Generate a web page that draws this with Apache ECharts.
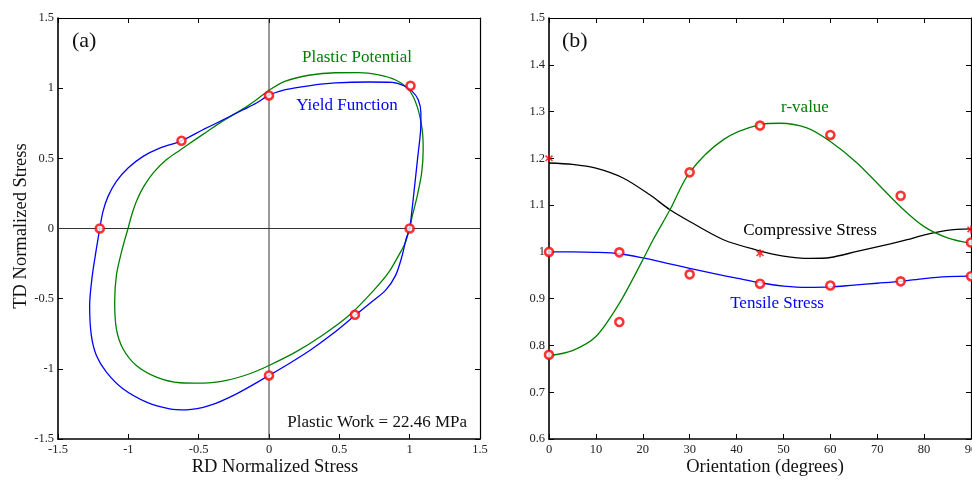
<!DOCTYPE html>
<html>
<head>
<meta charset="utf-8">
<script src="https://cdn.jsdelivr.net/npm/echarts@6/dist/echarts.min.js"></script>
<style>html,body{margin:0;padding:0;background:#fff;}#c{width:972px;height:480px;}</style>
</head>
<body>
<div id="c"></div>
<script>
// ---------- Panel (a): yield locus ----------
const stressTicks = [-1.5, -1, -0.5, 0, 0.5, 1, 1.5];
const yieldFunction = [
  [-1.203, 0.000], [-1.180, 0.122], [-1.144, 0.229], [-1.085, 0.336], [-1.002, 0.431],
  [-0.895, 0.514], [-0.777, 0.573], [-0.622, 0.625], [-0.469, 0.704], [-0.326, 0.775],
  [-0.184, 0.846], [-0.089, 0.894], [0.000, 0.950], [0.117, 0.989], [0.283, 1.017],
  [0.473, 1.037], [0.710, 1.044], [0.876, 1.041], [0.959, 1.017], [1.018, 0.977],
  [1.061, 0.918], [1.080, 0.823], [1.078, 0.704], [1.058, 0.514], [1.035, 0.300],
  [1.014, 0.110], [1.000, 0.000], [0.975, -0.073], [0.947, -0.192], [0.900, -0.334],
  [0.828, -0.441], [0.733, -0.520], [0.611, -0.620], [0.450, -0.752], [0.300, -0.862],
  [0.150, -0.958], [0.000, -1.047], [-0.231, -1.178], [-0.421, -1.261], [-0.587, -1.292],
  [-0.706, -1.285], [-0.871, -1.237], [-1.038, -1.142], [-1.156, -1.023], [-1.227, -0.905],
  [-1.263, -0.762], [-1.275, -0.548], [-1.256, -0.334], [-1.227, -0.144], [-1.203, 0.000]
];
const plasticPotential = [
  [-1.002, 0.000], [-0.975, 0.100], [-0.940, 0.200], [-0.890, 0.300], [-0.820, 0.400],
  [-0.730, 0.490], [-0.631, 0.560], [-0.530, 0.630], [-0.441, 0.690], [-0.330, 0.765],
  [-0.196, 0.845], [-0.089, 0.918], [0.000, 0.985], [0.117, 1.050], [0.283, 1.092],
  [0.473, 1.110], [0.639, 1.111], [0.781, 1.094], [0.900, 1.058], [0.994, 0.989],
  [1.053, 0.870], [1.089, 0.704], [1.096, 0.561], [1.085, 0.395], [1.053, 0.229],
  [1.018, 0.086], [0.999, 0.000], [0.971, -0.097], [0.935, -0.168], [0.852, -0.311],
  [0.733, -0.453], [0.568, -0.620], [0.378, -0.762], [0.188, -0.881], [0.000, -0.976],
  [-0.137, -1.035], [-0.302, -1.083], [-0.469, -1.102], [-0.634, -1.099], [-0.800, -1.059],
  [-0.943, -0.976], [-1.038, -0.857], [-1.085, -0.715], [-1.097, -0.524], [-1.085, -0.334],
  [-1.049, -0.168], [-1.002, 0.000]
];
const yieldPoints = [
  [-1.203, 0], [-0.622, 0.625], [0, 0.948], [1.006, 1.017], [1.0, 0], [0.611, -0.615], [0, -1.047]
];

// ---------- Panel (b): anisotropy vs orientation ----------
const angleTicks = [0, 10, 20, 30, 40, 50, 60, 70, 80, 90];
const ratioTicks = [0.6, 0.7, 0.8, 0.9, 1.0, 1.1, 1.2, 1.3, 1.4, 1.5];
const tensileCurve = [
  [0, 1.000], [5, 1.000], [10, 0.999], [15, 0.996], [20, 0.987], [25, 0.976], [30, 0.965],
  [35, 0.954], [40, 0.944], [45, 0.934], [50, 0.927], [55, 0.924], [60, 0.925], [65, 0.929],
  [70, 0.933], [75, 0.937], [80, 0.943], [85, 0.947], [90, 0.948]
];
const compressiveCurve = [
  [0, 1.190], [5, 1.187], [10, 1.179], [15.8, 1.158], [21.5, 1.122], [25.8, 1.090],
  [30, 1.065], [37.2, 1.026], [44.3, 1.004], [50, 0.991], [55.7, 0.986], [60, 0.988],
  [65.7, 1.001], [72.8, 1.017], [76.4, 1.026], [79.9, 1.036], [84.9, 1.046], [90, 1.049]
];
const rValueCurve = [
  [0, 0.778], [5, 0.789], [10, 0.819], [15, 0.890], [20, 0.983], [22.2, 1.026], [25.8, 1.090],
  [30, 1.170], [37.2, 1.240], [45, 1.272], [49.3, 1.275], [55, 1.265], [60, 1.236],
  [65.7, 1.190], [74.9, 1.097], [80, 1.054], [85, 1.030], [90, 1.018]
];
const tensilePoints = [[0, 1.0], [15, 0.999], [30, 0.952], [45, 0.932], [60, 0.928], [75, 0.937], [90, 0.948]];
const compressivePoints = [[0, 1.2], [45, 0.997], [90, 1.048]];
const rValuePoints = [[0, 0.78], [15, 0.85], [30, 1.17], [45, 1.27], [60, 1.25], [75, 1.12], [90, 1.02]];

const FONT = "'Liberation Serif', 'Times New Roman', serif";
const chart = echarts.init(document.getElementById('c'), null, {renderer: 'canvas'});

const starPath = 'path://M-1,-5L1,-5L1,-1.6L3.6,-4.1L4.9,-2.7L2.2,0L4.9,2.7L3.6,4.1L1,1.6L1,5L-1,5L-1,1.6L-3.6,4.1L-4.9,2.7L-2.2,0L-4.9,-2.7L-3.6,-4.1L-1,-1.6Z';

function mainAxis(gridIndex, min, max, interval, position, extraLabel) {
  return {
    type: 'value', gridIndex, min, max, interval, position,
    axisLine: {show: true, onZero: false, lineStyle: {color: '#000', width: 1.6}},
    axisTick: {show: true, inside: true, length: 5, lineStyle: {color: '#000'}},
    axisLabel: Object.assign({fontFamily: FONT, fontSize: 12.5, color: '#222', margin: 4}, extraLabel || {}),
    splitLine: {show: false}
  };
}
function mirrorAxis(gridIndex, min, max, interval, position) {
  return {
    type: 'value', gridIndex, min, max, interval, position,
    axisLine: {show: true, onZero: false, lineStyle: {color: '#000', width: 1.2}},
    axisTick: {show: true, inside: true, length: 5, lineStyle: {color: '#000'}},
    axisLabel: {show: false}, splitLine: {show: false}
  };
}

const circleMarker = {symbol: 'circle', symbolSize: 8, itemStyle: {color: '#fff', borderColor: '#ff0000', borderWidth: 2.6}};
const noBounds = {outerBoundsMode: 'none', containLabel: false};

chart.setOption({
  animation: false,
  backgroundColor: '#fff',
  grid: [
    Object.assign({left: 58, top: 18, width: 422, height: 421}, noBounds),
    Object.assign({left: 549, top: 18, width: 422, height: 421}, noBounds)
  ],
  xAxis: [
    mainAxis(0, stressTicks[0], stressTicks[stressTicks.length - 1], 0.5, 'bottom'),
    mirrorAxis(0, -1.5, 1.5, 0.5, 'top'),
    mainAxis(1, angleTicks[0], angleTicks[angleTicks.length - 1], 10, 'bottom'),
    mirrorAxis(1, 0, 90, 10, 'top')
  ],
  yAxis: [
    mainAxis(0, stressTicks[0], stressTicks[stressTicks.length - 1], 0.5, 'left'),
    mirrorAxis(0, -1.5, 1.5, 0.5, 'right'),
    mainAxis(1, ratioTicks[0], ratioTicks[ratioTicks.length - 1], 0.1, 'left', {formatter: v => String(+v.toFixed(1))}),
    mirrorAxis(1, 0.6, 1.5, 0.1, 'right')
  ],
  series: [
    {
      type: 'line', xAxisIndex: 0, yAxisIndex: 0, data: [[-1.5, 0], [1.5, 0]], symbol: 'none',
      lineStyle: {color: '#333', width: 1}, silent: true, z: 1
    },
    {
      type: 'line', xAxisIndex: 0, yAxisIndex: 0, data: [[0, -1.5], [0, 1.5]], symbol: 'none',
      lineStyle: {color: '#333', width: 1}, silent: true, z: 1
    },
    {
      name: 'Yield Function', type: 'line', xAxisIndex: 0, yAxisIndex: 0, data: yieldFunction,
      symbol: 'none', smooth: 0.3, lineStyle: {color: '#0000ff', width: 1.3}, z: 3
    },
    {
      name: 'Plastic Potential', type: 'line', xAxisIndex: 0, yAxisIndex: 0, data: plasticPotential,
      symbol: 'none', smooth: 0.3, lineStyle: {color: '#008000', width: 1.3}, z: 2
    },
    Object.assign({type: 'scatter', xAxisIndex: 0, yAxisIndex: 0, data: yieldPoints, clip: false, z: 5}, circleMarker),
    {
      name: 'Compressive Stress', type: 'line', xAxisIndex: 2, yAxisIndex: 2, data: compressiveCurve,
      symbol: 'none', smooth: 0.3, lineStyle: {color: '#000', width: 1.3}, z: 3
    },
    {
      name: 'Tensile Stress', type: 'line', xAxisIndex: 2, yAxisIndex: 2, data: tensileCurve,
      symbol: 'none', smooth: 0.3, lineStyle: {color: '#0000ff', width: 1.3}, z: 3
    },
    {
      name: 'r-value', type: 'line', xAxisIndex: 2, yAxisIndex: 2, data: rValueCurve,
      symbol: 'none', smooth: 0.3, lineStyle: {color: '#008000', width: 1.3}, z: 3
    },
    Object.assign({type: 'scatter', xAxisIndex: 2, yAxisIndex: 2, data: tensilePoints, clip: false, z: 5}, circleMarker),
    Object.assign({type: 'scatter', xAxisIndex: 2, yAxisIndex: 2, data: rValuePoints, clip: false, z: 5}, circleMarker),
    {
      type: 'scatter', xAxisIndex: 2, yAxisIndex: 2, data: compressivePoints, clip: false, z: 5,
      symbol: starPath, symbolSize: 8, itemStyle: {color: '#ff0000'}
    }
  ],
  graphic: [
    {type: 'text', left: 72, top: 30, style: {text: '(a)', fontFamily: FONT, fontSize: 22, fill: '#111'}},
    {type: 'text', left: 562, top: 30, style: {text: '(b)', fontFamily: FONT, fontSize: 22, fill: '#111'}},
    {type: 'text', x: 357, y: 58, style: {text: 'Plastic Potential', fontFamily: FONT, fontSize: 17, fill: '#008000', align: 'center', verticalAlign: 'middle'}},
    {type: 'text', x: 347, y: 106, style: {text: 'Yield Function', fontFamily: FONT, fontSize: 17, fill: '#0000ff', align: 'center', verticalAlign: 'middle'}},
    {type: 'text', x: 467, y: 423, style: {text: 'Plastic Work = 22.46 MPa', fontFamily: FONT, fontSize: 17, fill: '#111', align: 'right', verticalAlign: 'middle'}},
    {type: 'text', x: 805, y: 108, style: {text: 'r-value', fontFamily: FONT, fontSize: 17, fill: '#008000', align: 'center', verticalAlign: 'middle'}},
    {type: 'text', x: 810, y: 231, style: {text: 'Compressive Stress', fontFamily: FONT, fontSize: 17, fill: '#000', align: 'center', verticalAlign: 'middle'}},
    {type: 'text', x: 777, y: 304, style: {text: 'Tensile Stress', fontFamily: FONT, fontSize: 17, fill: '#0000ff', align: 'center', verticalAlign: 'middle'}},
    {type: 'text', x: 275, y: 467, style: {text: 'RD Normalized Stress', fontFamily: FONT, fontSize: 18.5, fill: '#111', align: 'center', verticalAlign: 'middle'}},
    {type: 'text', x: 765, y: 467, style: {text: 'Orientation (degrees)', fontFamily: FONT, fontSize: 18.5, fill: '#111', align: 'center', verticalAlign: 'middle'}},
    {type: 'text', x: 21, y: 226, rotation: Math.PI / 2, style: {text: 'TD Normalized Stress', fontFamily: FONT, fontSize: 18.5, fill: '#111', align: 'center', verticalAlign: 'middle'}}
  ]
});
</script>
</body>
</html>
